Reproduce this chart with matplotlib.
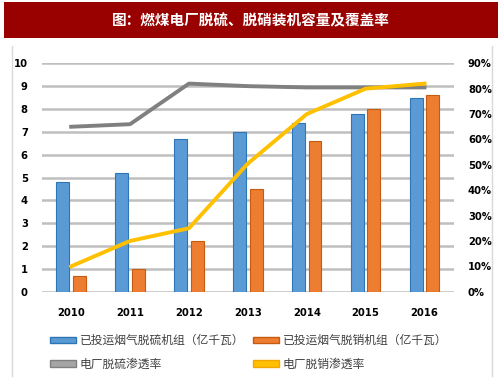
import matplotlib
matplotlib.use("Agg")
import matplotlib.pyplot as plt
from matplotlib.patches import Patch, Rectangle
from matplotlib.lines import Line2D
import numpy as np

plt.rcParams['font.family'] = ['Noto Sans CJK SC', 'DejaVu Sans']

years = ['2010', '2011', '2012', '2013', '2014', '2015', '2016']
fgd_capacity = [4.8, 5.2, 6.7, 7.0, 7.4, 7.8, 8.5]      # 已投运烟气脱硫机组（亿千瓦）
scr_capacity = [0.7, 1.0, 2.2, 4.5, 6.6, 8.0, 8.6]      # 已投运烟气脱销机组（亿千瓦）
fgd_rate = [0.65, 0.66, 0.82, 0.81, 0.805, 0.805, 0.805]  # 电厂脱硫渗透率
scr_rate = [0.10, 0.20, 0.25, 0.505, 0.70, 0.80, 0.82]    # 电厂脱销渗透率

left_ticks = list(range(0, 11))
right_ticks = [i / 10 for i in range(0, 10)]

title = '图：燃煤电厂脱硫、脱硝装机容量及覆盖率'
labels = ['已投运烟气脱硫机组（亿千瓦）', '已投运烟气脱销机组（亿千瓦）',
          '电厂脱硫渗透率', '电厂脱销渗透率']

W, H = 503, 378
fig = plt.figure(figsize=(W / 100, H / 100), dpi=100)

# title bar
fig.patches.append(Rectangle((4 / W, 1 - 38 / H), 494 / W, 36 / H,
                             transform=fig.transFigure, facecolor='#990000',
                             edgecolor='none', zorder=0))
fig.text(251 / W, 1 - 20.5 / H, title, color='white', fontsize=10.5,
         fontweight='bold', ha='center', va='center')
# panel borders
for xp in (12, 492):
    fig.add_artist(Line2D([xp / W, xp / W], [0.005, 1 - 46 / H],
                          transform=fig.transFigure, color='#D9D9D9', lw=1))

ax = fig.add_axes([41.7 / W, 1 - 291.7 / H, 412.3 / W, 228.4 / H])
x = np.arange(len(years))
bw = 0.22
off = 0.14
ax.bar(x - off, fgd_capacity, bw, color='#5B9BD5', edgecolor='#2E75B6', lw=0.8, zorder=3)
ax.bar(x + off, scr_capacity, bw, color='#ED7D31', edgecolor='#C55A11', lw=0.8, zorder=3)
ax.set_xlim(-0.5, 6.5)
ax.set_ylim(0, 10)
ax.set_yticks(left_ticks)
ax.set_xticks(x)
ax.set_xticklabels(years)
ax.grid(axis='y', color='#BFBFBF', lw=1.8, zorder=0)
ax.set_axisbelow(True)
for s in ax.spines.values():
    s.set_visible(False)
ax.tick_params(length=0)
ax.tick_params(axis='y', pad=10)
ax.tick_params(axis='x', pad=12)
for lab in ax.get_xticklabels() + ax.get_yticklabels():
    lab.set_fontfamily('DejaVu Sans')
    lab.set_fontweight('bold')
    lab.set_fontsize(7.2)

ax2 = ax.twinx()
ax2.plot(x, fgd_rate, color='#808080', lw=2.8, zorder=4)
ax2.plot(x, scr_rate, color='#FFC000', lw=2.8, zorder=5)
ax2.set_ylim(0, 0.9)
ax2.set_yticks(right_ticks)
ax2.set_yticklabels([f'{int(round(t * 100))}%' for t in right_ticks])
for s in ax2.spines.values():
    s.set_visible(False)
ax2.tick_params(length=0, pad=10)
for lab in ax2.get_yticklabels():
    lab.set_fontfamily('DejaVu Sans')
    lab.set_fontweight('bold')
    lab.set_fontsize(7.2)

h_fgd = Patch(facecolor='#5B9BD5', edgecolor='#2E75B6')
h_scr = Patch(facecolor='#ED7D31', edgecolor='#C55A11')
h_fgdr = Patch(facecolor='#A5A5A5', edgecolor='#808080')
h_scrr = Patch(facecolor='#FFC000', edgecolor='#F0A800')
# column-major fill: col1 = [fgd, fgd rate], col2 = [scr, scr rate]
leg = fig.legend([h_fgd, h_fgdr, h_scr, h_scrr],
                 [labels[0], labels[2], labels[1], labels[3]],
                 ncol=2, loc='upper left',
                 bbox_to_anchor=(50 / W, 1 - 334 / H), frameon=False,
                 fontsize=8.5, handlelength=2.2, handleheight=0.45,
                 handletextpad=0.3, columnspacing=0.8, labelspacing=0.9,
                 borderpad=0, borderaxespad=0)
for t in leg.get_texts():
    t.set_color('#404040')

fig.savefig('out.png', dpi=100)
